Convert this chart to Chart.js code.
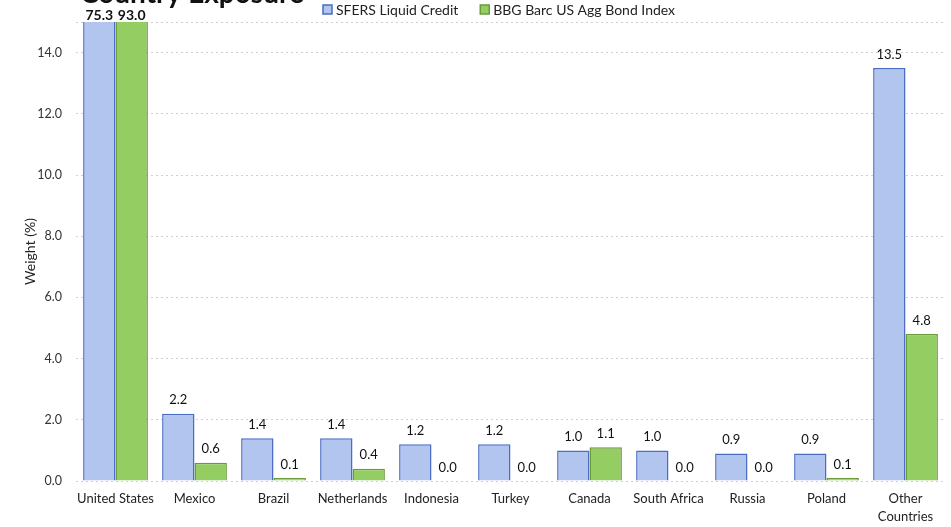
<!DOCTYPE html>
<html>
<head>
<meta charset="utf-8">
<script src="https://cdn.jsdelivr.net/npm/chart.js@4"></script>
<style>
  html, body { margin: 0; padding: 0; background: #fff; }
  #wrap { width: 951px; height: 527px; }
</style>
</head>
<body>
<div id="wrap"><canvas id="exposureChart" width="951" height="527"></canvas></div>
<script>
// --- data ---
const countries = ['United States', 'Mexico', 'Brazil', 'Netherlands', 'Indonesia', 'Turkey',
    'Canada', 'South Africa', 'Russia', 'Poland', ['Other', 'Countries']];
const sfersCredit = [75.3, 2.2, 1.4, 1.4, 1.2, 1.2, 1.0, 1.0, 0.9, 0.9, 13.5];
const bbgAggIndex = [93.0, 0.6, 0.1, 0.4, 0.0, 0.0, 1.1, 0.0, 0.0, 0.1, 4.8];
const yTicks = [0, 2, 4, 6, 8, 10, 12, 14, 15];
const yMax = 15;

const labelFont = 'Lato, "Open Sans", sans-serif';

document.addEventListener("DOMContentLoaded", () => {
    const ctx = document.getElementById('exposureChart').getContext('2d');

    new Chart(ctx, {
        type: 'bar',
        data: {
            labels: countries,
            datasets: [{
                label: 'SFERS Liquid Credit',
                data: sfersCredit,
                backgroundColor: '#b2c5ee',
                borderColor: '#4a6cc4',
                borderWidth: 1.5,
                borderSkipped: 'bottom'
            }, {
                label: 'BBG Barc US Agg Bond Index',
                data: bbgAggIndex,
                backgroundColor: '#94cd62',
                borderColor: '#6b9a38',
                borderWidth: 1.5,
                borderSkipped: 'bottom'
            }]
        },
        options: {
            responsive: false,
            animation: false,
            layout: { padding: { left: 22, right: 6, top: 22, bottom: 0 } },
            datasets: {
                bar: { categoryPercentage: 0.82, barPercentage: 1.0 }
            },
            plugins: {
                legend: { display: false },
                tooltip: { enabled: false }
            },
            scales: {
                x: {
                    afterFit: (axis) => { axis.height = 46; },
                    grid: { display: false, drawTicks: false },
                    border: { display: false },
                    ticks: {
                        color: '#222',
                        padding: 9,
                        maxRotation: 0,
                        autoSkip: false,
                        font: { family: labelFont, size: 13, lineHeight: 1.4 }
                    }
                },
                y: {
                    min: 0,
                    max: yMax,
                    afterBuildTicks: (axis) => {
                        axis.ticks = yTicks.map(v => ({ value: v }));
                    },
                    afterFit: (axis) => { axis.width = 54; },
                    grid: {
                        color: '#cfcfcf',
                        drawTicks: false
                    },
                    border: { display: false, dash: [2, 3] },
                    ticks: {
                        color: '#333',
                        padding: 14,
                        font: { family: labelFont, size: 12.5 },
                        callback: (v) => v === yMax ? '' : v.toFixed(1)
                    },
                    title: {
                        display: true,
                        text: 'Weight (%)',
                        color: '#222',
                        padding: { top: 0, bottom: 1 },
                        font: { family: labelFont, size: 14 }
                    }
                }
            }
        },
        plugins: [{
            // clipped page title + legend row at the top
            id: 'header',
            afterDraw(chart) {
                const { ctx } = chart;
                ctx.save();
                ctx.fillStyle = '#111';
                ctx.textBaseline = 'alphabetic';
                ctx.font = 'bold 28px ' + labelFont;
                ctx.fillText('Country Exposure', 80, 3);

                ctx.font = '14px ' + labelFont;
                ctx.textBaseline = 'middle';
                let x = 323;
                chart.data.datasets.forEach((ds) => {
                    ctx.fillStyle = ds.backgroundColor;
                    ctx.strokeStyle = ds.borderColor;
                    ctx.lineWidth = 1.5;
                    ctx.fillRect(x, 5, 9, 9);
                    ctx.strokeRect(x, 5, 9, 9);
                    ctx.fillStyle = '#222';
                    ctx.fillText(ds.label, x + 13, 10);
                    x += 13 + ctx.measureText(ds.label).width + 22;
                });
                ctx.restore();
            }
        }, {
            // value labels above each bar, clipped bars show real value
            id: 'valueLabels',
            afterDatasetsDraw(chart) {
                const { ctx, chartArea } = chart;
                ctx.save();
                ctx.textAlign = 'center';
                ctx.textBaseline = 'bottom';
                ctx.fillStyle = '#111';
                chart.data.datasets.forEach((ds, di) => {
                    chart.getDatasetMeta(di).data.forEach((bar, i) => {
                        const v = ds.data[i];
                        if (v > yMax) {
                            ctx.font = 'bold 14px ' + labelFont;
                            ctx.fillText(v.toFixed(1), bar.x, chartArea.top);
                        } else {
                            ctx.font = '13px ' + labelFont;
                            ctx.fillText(v.toFixed(1), bar.x, bar.y - 7);
                        }
                    });
                });
                ctx.restore();
            }
        }]
    });
});
</script>
</body>
</html>
